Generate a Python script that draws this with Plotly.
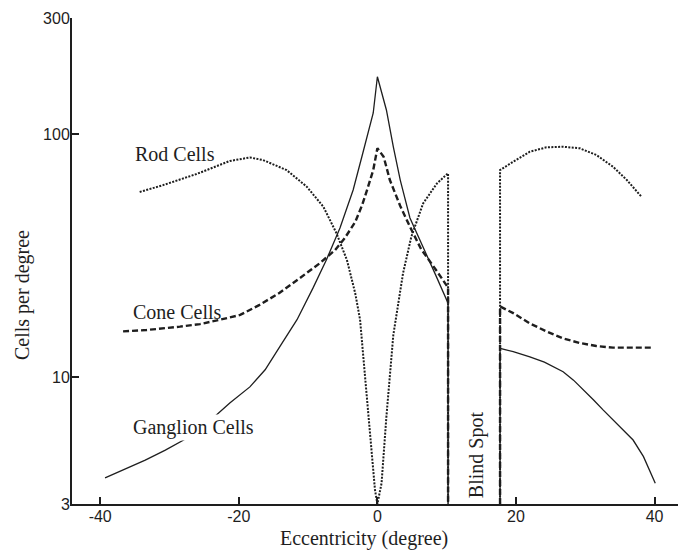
import plotly.graph_objects as go

# Retinal cell density across the horizontal meridian (log scale)
# Each series is split at the blind spot; both edges drop to the axis floor.

rod_x = [-34.3, -30.9, -26.1, -21.3, -18.4, -16.5, -13.1, -10.2, -7.8, -5.9, -4.4,
         -3.2, -2.5, -1.4, -0.8, -0.35, 0.0, 0.6, 1.3, 2.3, 3.7, 4.9, 6.6, 8.6, 10.2, 10.2,
         None,
         17.7, 17.7, 19.6, 22.0, 24.4, 26.8, 29.2, 31.6, 34.0, 36.0, 38.1]
rod_y = [57.7, 61.6, 68.4, 77.4, 80.0, 78.1, 71.0, 60.7, 50.2, 39.0, 30.3,
         22.1, 17.2, 7.31, 4.55, 3.43, 3.0, 3.65, 6.86, 14.9, 26.7, 37.8, 51.8, 62.6, 68.9, 3.0,
         None,
         3.0, 71.0, 76.9, 84.5, 88.1, 88.6, 87.3, 81.9, 73.3, 64.6, 55.2]

cone_x = [-36.7, -33.3, -28.5, -25.6, -22.7, -19.8, -17.0, -14.1, -11.2, -8.3, -6.1,
          -4.7, -3.2, -2.2, -1.4, -0.6, 0.0, 0.9, 1.8, 3.3, 4.7, 6.3, 8.6, 10.2, 10.2,
          None,
          17.7, 17.7, 19.6, 22.0, 24.4, 26.8, 29.2, 31.6, 34.0, 36.5, 39.8]
cone_y = [15.4, 15.6, 16.1, 16.5, 17.2, 18.0, 19.8, 22.2, 25.5, 29.4, 33.3,
          37.3, 43.4, 51.0, 59.9, 71.0, 87.3, 80.6, 64.6, 50.5, 41.5, 33.6, 27.2, 23.3, 3.0,
          None,
          3.0, 19.5, 18.3, 16.6, 15.4, 14.4, 13.8, 13.4, 13.2, 13.2, 13.2]

ganglion_x = [-39.3, -36.4, -33.5, -30.6, -27.5, -24.2, -21.3, -18.4, -16.2, -14.1, -11.6,
              -9.3, -7.3, -5.4, -3.5, -2.1, -0.6, 0.0, 1.3, 2.3, 3.3, 4.7, 6.6, 8.4, 10.2, 10.2,
              None,
              17.7, 17.7, 19.6, 22.0, 24.1, 25.4, 26.8, 28.3, 29.7, 31.2, 32.6, 34.0, 35.5,
              36.9, 38.4, 39.3, 40.1]
ganglion_y = [3.84, 4.18, 4.55, 5.00, 5.59, 6.59, 7.81, 9.1, 10.7, 13.3, 17.2,
              23.2, 30.6, 41.0, 58.8, 83.5, 122.0, 172.0, 125.5, 88.4, 64.6, 45.1, 33.9, 26.3, 20.1, 3.0,
              None,
              3.0, 13.1, 12.7, 12.1, 11.5, 11.0, 10.5, 9.7, 8.9, 8.04, 7.3, 6.65, 6.05,
              5.50, 4.70, 4.14, 3.65]

x_ticks = [-40, -20, 0, 20, 40]
y_ticks = [3, 10, 100, 300]

INK = "#1e1e1e"
SERIF = "Liberation Serif, Times New Roman, serif"
SANS = "Liberation Sans, Arial, sans-serif"

fig = go.Figure()
fig.add_trace(go.Scatter(x=rod_x, y=rod_y, mode="lines", name="Rod Cells",
                         line=dict(color=INK, width=2, dash="2px,1.4px"),
                         connectgaps=False))
fig.add_trace(go.Scatter(x=cone_x, y=cone_y, mode="lines", name="Cone Cells",
                         line=dict(color=INK, width=2.4, dash="6px,3px"),
                         connectgaps=False))
fig.add_trace(go.Scatter(x=ganglion_x, y=ganglion_y, mode="lines", name="Ganglion Cells",
                         line=dict(color=INK, width=1.3),
                         connectgaps=False))

# Curve labels (y given in log10 units, as the y axis is logarithmic)
label_font = dict(family=SERIF, size=20, color=INK)
fig.add_annotation(x=-29.2, y=1.9174, text="Rod Cells", showarrow=False,
                   font=label_font)
fig.add_annotation(x=-28.8, y=1.2672, text="Cone Cells", showarrow=False,
                   font=label_font)
fig.add_annotation(x=-26.6, y=0.794, text="Ganglion Cells", showarrow=False,
                   font=label_font, bgcolor="white")
fig.add_annotation(x=14.4, y=0.6788, text="Blind Spot", showarrow=False,
                   font=label_font, textangle=-90)

# Axis titles
fig.add_annotation(xref="paper", yref="paper", x=0.482, y=-0.070,
                   text="Eccentricity (degree)", showarrow=False,
                   font=label_font, xanchor="center", yanchor="middle")
fig.add_annotation(xref="paper", yref="paper", x=-0.0825, y=0.43,
                   text="Cells per degree", showarrow=False,
                   font=label_font, textangle=-90, xanchor="center", yanchor="middle")

axis_common = dict(showline=True, linecolor=INK, linewidth=2, ticks="inside",
                   ticklen=7, tickwidth=2, tickcolor=INK, showgrid=False,
                   zeroline=False, ticklabelstandoff=-3,
                   tickfont=dict(family=SANS, size=16, color=INK))

fig.update_xaxes(range=[-44.07, 43.38], tickvals=x_ticks,
                 ticktext=[str(v) for v in x_ticks], **axis_common)
fig.update_yaxes(type="log", range=[0.47712, 2.47712], tickvals=y_ticks,
                 ticktext=[str(v) for v in y_ticks], **axis_common)

fig.update_layout(width=678, height=550, showlegend=False,
                  margin=dict(l=72, r=0, t=18, b=46),
                  paper_bgcolor="white", plot_bgcolor="white")

fig.write_html("out.html")
